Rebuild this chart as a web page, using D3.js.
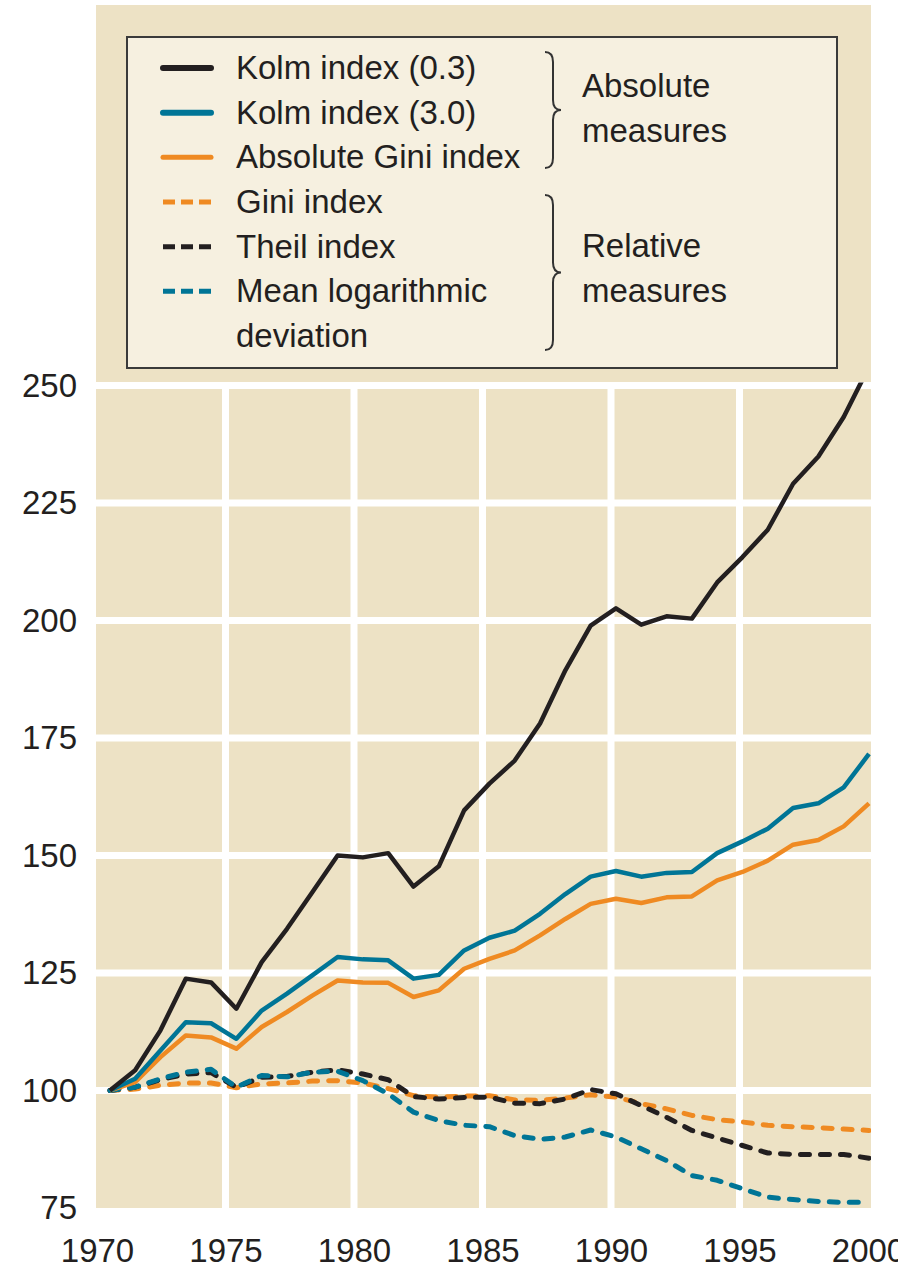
<!DOCTYPE html>
<html>
<head>
<meta charset="utf-8">
<script src="https://cdn.jsdelivr.net/npm/d3@7"></script>
<style>
  body { margin: 0; background: #fff; }
  text { font-family: "Liberation Sans", Arial, sans-serif; fill: #231f20; }
</style>
</head>
<body>
<div id="viz"></div>
<script>

const years = [1970, 1971, 1972, 1973, 1974, 1975, 1976, 1977, 1978, 1979,
  1980, 1981, 1982, 1983, 1984, 1985, 1986, 1987, 1988, 1989,
  1990, 1991, 1992, 1993, 1994, 1995, 1996, 1997, 1998, 1999, 2000]

const kolm03 = [100, 104.3, 112.8, 123.8, 123.0, 117.4, 127.3, 134.4, 142.2, 150.0,
  149.6, 150.5, 143.4, 147.7, 159.6, 165.3, 170.2, 178.1, 189.4, 198.9,
  202.6, 199.1, 200.9, 200.4, 208.1, 213.5, 219.3, 229.1, 234.9, 243.3, 254]
const kolm30 = [100, 102.5, 108.5, 114.5, 114.3, 111.0, 117.0, 120.6, 124.5, 128.4,
  127.9, 127.7, 123.8, 124.6, 129.8, 132.5, 134.0, 137.6, 141.8, 145.5,
  146.7, 145.5, 146.3, 146.5, 150.5, 153.0, 155.7, 160.1, 161.1, 164.5, 171.6]
const absGini = [100, 101.8, 107.1, 111.7, 111.3, 108.9, 113.5, 116.7, 120.2, 123.4,
  123.0, 122.9, 119.9, 121.3, 125.9, 128.0, 129.8, 133.0, 136.5, 139.7,
  140.8, 139.9, 141.1, 141.3, 144.7, 146.5, 148.9, 152.3, 153.3, 156.2, 161.1]
const gini = [100, 100.3, 101.1, 101.6, 101.6, 100.6, 101.4, 101.6, 102.0, 102.1,
  101.6, 100.4, 98.9, 98.6, 98.8, 98.9, 98.0, 97.9, 98.4, 99.1,
  98.6, 97.2, 96.1, 94.7, 93.8, 93.3, 92.6, 92.3, 92.1, 91.8, 91.5]
const theil = [100, 100.7, 102.3, 103.5, 103.8, 100.7, 102.8, 103.0, 103.9, 104.4,
  103.5, 102.3, 98.7, 98.2, 98.5, 98.6, 97.3, 97.2, 98.2, 100.2,
  99.3, 96.8, 94.3, 91.5, 89.9, 88.3, 86.7, 86.4, 86.4, 86.4, 85.6]
const mld = [100, 100.7, 102.5, 103.9, 104.5, 100.7, 103.2, 102.9, 103.9, 104.1,
  102.1, 99.3, 95.4, 93.6, 92.6, 92.3, 90.4, 89.6, 90.1, 91.6,
  90.1, 87.6, 85.1, 81.9, 80.9, 79.1, 77.3, 76.8, 76.4, 76.2, 76.2]

const yTicks = [75, 100, 125, 150, 175, 200, 225, 250]
const xTicks = [1970, 1975, 1980, 1985, 1990, 1995, 2000]

const legendRows = ["Kolm index (0.3)", "Kolm index (3.0)", "Absolute Gini index",
  "Gini index", "Theil index", "Mean logarithmic", "deviation"]
const groupLabels = [["Absolute", "measures"], ["Relative", "measures"]]

const black = "#231f20"
const blue = "#007596"
const orange = "#ef8a22"

const series = [
  { name: "Gini index", values: gini, color: orange, dashed: true },
  { name: "Theil index", values: theil, color: black, dashed: true },
  { name: "Mean logarithmic deviation", values: mld, color: blue, dashed: true },
  { name: "Absolute Gini index", values: absGini, color: orange, dashed: false },
  { name: "Kolm index (3.0)", values: kolm30, color: blue, dashed: false },
  { name: "Kolm index (0.3)", values: kolm03, color: black, dashed: false }
]
const legendSeries = [series[5], series[4], series[3], series[0], series[1], series[2]]

const width = 898
const height = 1269

const svg = d3.select("#viz").append("svg")
  .attr("width", width)
  .attr("height", height)

const x = d3.scaleLinear().domain([1970, 2000]).range([97, 868])
// data points sit a little to the right of the year gridlines, as in the source
const xData = d3.scaleLinear().domain([1970, 2000]).range([x(1970.5), x(2000) + 1])
const y = d3.scaleLinear().domain([75, 250]).range([1208, 385.5])

const plotLeft = 96, plotRight = 871, plotTop = 5

// background panel
svg.append("rect")
  .attr("x", plotLeft).attr("y", plotTop)
  .attr("width", plotRight - plotLeft).attr("height", y(75) - plotTop)
  .attr("fill", "#ede2c5")

// gridlines
svg.append("g").selectAll("line")
  .data(yTicks.filter(d => d > 75))
  .join("line")
  .attr("x1", plotLeft).attr("x2", plotRight)
  .attr("y1", d => y(d)).attr("y2", d => y(d))
  .attr("stroke", "#fff").attr("stroke-width", 7)

svg.append("g").selectAll("line")
  .data(xTicks.filter(d => d > 1970 && d < 2000))
  .join("line")
  .attr("x1", d => x(d)).attr("x2", d => x(d))
  .attr("y1", y(250)).attr("y2", y(75))
  .attr("stroke", "#fff").attr("stroke-width", 7)

// axes
const yAxis = svg.append("g")
  .attr("transform", `translate(${plotLeft},0)`)
  .call(d3.axisLeft(y).tickValues(yTicks).tickSize(0).tickPadding(19))
yAxis.select(".domain").remove()
yAxis.selectAll("text")
  .attr("font-size", 33)
  .attr("font-family", "'Liberation Sans', Arial, sans-serif")
  .attr("fill", black)

const xAxis = svg.append("g")
  .attr("transform", `translate(0,${y(75)})`)
  .call(d3.axisBottom(x).tickValues(xTicks).tickFormat(d3.format("d")).tickSize(0).tickPadding(31))
xAxis.select(".domain").remove()
xAxis.selectAll("text")
  .attr("font-size", 33)
  .attr("font-family", "'Liberation Sans', Arial, sans-serif")
  .attr("fill", black)

// lines
svg.append("clipPath").attr("id", "plotclip")
  .append("rect")
  .attr("x", plotLeft).attr("y", y(250) - 3)
  .attr("width", plotRight - plotLeft).attr("height", y(75) - y(250) + 3)

const line = d3.line()
  .x((d, i) => xData(years[i]))
  .y(d => y(d))

svg.append("g")
  .attr("clip-path", "url(#plotclip)")
  .selectAll("path")
  .data(series)
  .join("path")
  .attr("d", d => line(d.values))
  .attr("fill", "none")
  .attr("stroke", d => d.color)
  .attr("stroke-width", d => d.dashed ? 5 : 4.5)
  .attr("stroke-linejoin", "round")
  .attr("stroke-linecap", d => d.dashed ? "round" : "butt")
  .attr("stroke-dasharray", d => d.dashed ? "9,11" : null)

// legend
const legend = svg.append("g")

legend.append("rect")
  .attr("x", 127).attr("y", 37)
  .attr("width", 710).attr("height", 331)
  .attr("fill", "#f6f0e0")
  .attr("stroke", "#3a3a3a")
  .attr("stroke-width", 2)

const rowY = d3.scaleLinear().domain([0, 6]).range([68, 336])

legend.selectAll("line.sample")
  .data(legendSeries)
  .join("line")
  .attr("class", "sample")
  .attr("x1", 163).attr("x2", 211)
  .attr("y1", (d, i) => rowY(i)).attr("y2", (d, i) => rowY(i))
  .attr("stroke", d => d.color)
  .attr("stroke-width", (d, i) => i < 2 ? 6 : 5)
  .attr("stroke-linecap", d => d.dashed ? "butt" : "round")
  .attr("stroke-dasharray", d => d.dashed ? "12,6" : null)

legend.selectAll("text.row")
  .data(legendRows)
  .join("text")
  .attr("class", "row")
  .attr("x", 236)
  .attr("y", (d, i) => rowY(i) + 11)
  .attr("font-size", 33)
  .text(d => d)

function brace(xb, y0, y1) {
  const w = 8, r = 10, ym = (y0 + y1) / 2
  return `M${xb},${y0} Q${xb + w},${y0} ${xb + w},${y0 + r} L${xb + w},${ym - r} ` +
    `Q${xb + w},${ym} ${xb + 2 * w},${ym} Q${xb + w},${ym} ${xb + w},${ym + r} ` +
    `L${xb + w},${y1 - r} Q${xb + w},${y1} ${xb},${y1}`
}

legend.append("path")
  .attr("d", brace(545, 52, 168))
  .attr("fill", "none").attr("stroke", "#333").attr("stroke-width", 2)
legend.append("path")
  .attr("d", brace(545, 195, 350))
  .attr("fill", "none").attr("stroke", "#333").attr("stroke-width", 2)

const groupY = [[97, 142], [257, 302]]
groupLabels.forEach((g, gi) => {
  g.forEach((t, ti) => {
    legend.append("text")
      .attr("x", 582)
      .attr("y", groupY[gi][ti])
      .attr("font-size", 33)
      .text(t)
  })
})

</script>
</body>
</html>
